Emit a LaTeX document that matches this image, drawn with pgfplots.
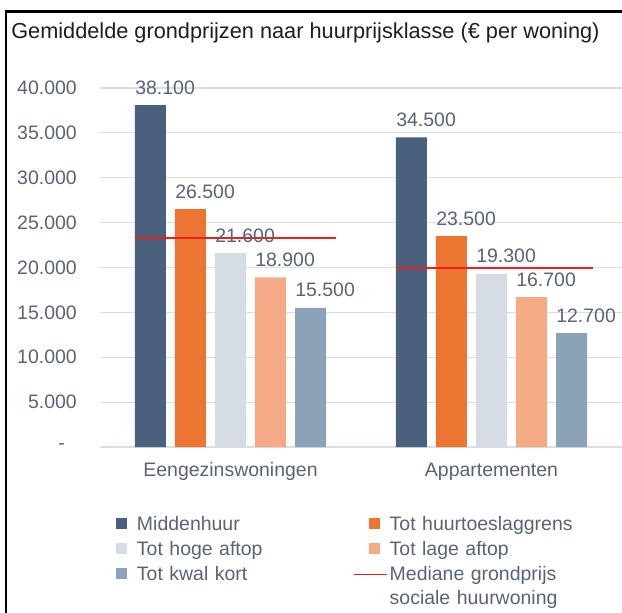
\documentclass[border=0pt]{standalone}
\usepackage{fontspec}
\setmainfont{Liberation Sans}
\usepackage{pgfplots}
\pgfplotsset{compat=1.18}
\definecolor{cMid}{RGB}{73,97,124}
\definecolor{cOra}{RGB}{237,117,50}
\definecolor{cLgr}{RGB}{213,220,228}
\definecolor{cLor}{RGB}{244,170,132}
\definecolor{cGbl}{RGB}{140,162,185}
\definecolor{cRed}{RGB}{238,30,30}
\definecolor{cGrid}{RGB}{217,222,228}
\definecolor{cText}{RGB}{89,99,115}
\definecolor{cTitle}{RGB}{30,30,30}
\pgfplotsset{legsq/.style={legend image code/.code={\path[draw=none,fill=none] (0pt,-4pt) rectangle (27pt,11pt); \fill[#1,draw=none] (11.25pt,1.5pt) rectangle (19.5pt,9.75pt);}},
  lab/.style={every node near coord/.append style={xshift=#1}}}
\begin{document}
\begin{tikzpicture}
\useasboundingbox (0,0) rectangle (466.5pt,459pt);
\draw[black, line width=1.8pt] (4.5pt,-2pt) -- (4.5pt,450.4pt) -- (470pt,450.4pt);
\node[anchor=base west, inner sep=0pt, font=\fontsize{16.3}{19}\selectfont, text=cTitle] at (8.25pt,429.75pt) {Gemiddelde grondprijzen naar huurprijsklasse (€ per woning)};
\begin{axis}[
  at={(75pt,123.75pt)}, anchor=south west,
  scale only axis, width=391.5pt, height=269.25pt,
  xmin=-0.5, xmax=1.5, ymin=0, ymax=40000,
  xtick={0,1}, xticklabels={Eengezinswoningen,Appartementen},
  ytick={0,5000,10000,15000,20000,25000,30000,35000,40000},
  yticklabels={{-\hspace*{9pt}},5.000,10.000,15.000,20.000,25.000,30.000,35.000,40.000},
  scaled y ticks=false,
  ymajorgrids, major grid style={draw=cGrid, line width=0.8pt},
  axis line style={draw=none},
  major tick length=0pt,
  tick label style={font=\fontsize{14.6}{17.5}\selectfont, text=cText, inner sep=0pt},
  yticklabel style={anchor=east, xshift=-17.25pt},
  xticklabel style={anchor=base, yshift=-21.75pt},
  /pgf/number format/.cd, 1000 sep={.}, fixed, precision=0, assume math mode=true,
  /pgfplots/.cd,
  every node near coord/.append style={anchor=base west, yshift=8.25pt, font=\fontsize{14.6}{17.5}\selectfont, text=cText, inner sep=0pt},
  legend columns=2,
  legend style={at={(0.0019,-0.193)}, anchor=north west, draw=none, fill=none, inner sep=0pt, outer sep=0pt, row sep=3.75pt, column sep=0pt,
    nodes={anchor=base west, text width=162pt, align=left, inner sep=0pt, text height=11pt, text depth=4pt, font=\fontsize{14.6}{17.3}\selectfont, text=cText}},
]
\addplot[ybar, bar width=23.25pt, bar shift=-60pt, fill=cMid, draw=none, nodes near coords, lab=-71.6pt, legsq=cMid] coordinates {(0,38100) (1,34500)};
\addlegendentry{Middenhuur}
\addplot[ybar, bar width=23.25pt, bar shift=-30pt, fill=cOra, draw=none, nodes near coords, lab=-41.6pt, legsq=cOra] coordinates {(0,26500) (1,23500)};
\addlegendentry{Tot huurtoeslaggrens}
\addplot[ybar, bar width=23.25pt, bar shift=0pt, fill=cLgr, draw=none, nodes near coords, lab=-11.6pt, legsq=cLgr] coordinates {(0,21600) (1,19300)};
\addlegendentry{Tot hoge aftop}
\addplot[ybar, bar width=23.25pt, bar shift=30pt, fill=cLor, draw=none, nodes near coords, lab=18.4pt, legsq=cLor] coordinates {(0,18900) (1,16700)};
\addlegendentry{Tot lage aftop}
\addplot[ybar, bar width=23.25pt, bar shift=60pt, fill=cGbl, draw=none, nodes near coords, lab=48.4pt, legsq=cGbl] coordinates {(0,15500) (1,12700)};
\addlegendentry{Tot kwal kort}
\addplot[cRed, line width=1.1pt, mark=none, legend image code/.code={\path[draw=none,fill=none] (0pt,-4pt) rectangle (27pt,11pt); \draw[cRed, line width=1.1pt] (0pt,5pt) -- (24.75pt,5pt);}] coordinates {(-0.366,23300) (0.404,23300)};
\addlegendentry{Mediane grondprijs\\sociale huurwoning}
\addplot[cRed, line width=1.1pt, mark=none, forget plot] coordinates {(0.634,19950) (1.389,19950)};
\end{axis}
\end{tikzpicture}
\end{document}
